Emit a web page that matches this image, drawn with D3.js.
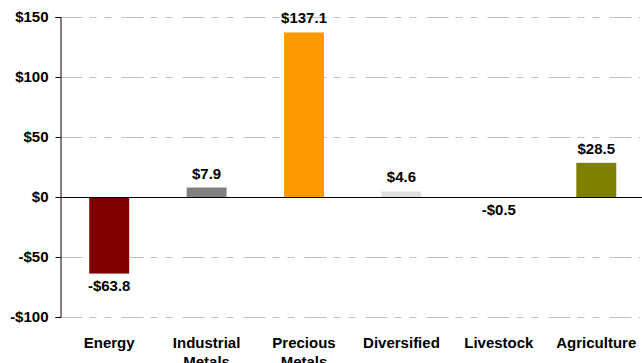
<!DOCTYPE html>
<html>
<head>
<meta charset="utf-8">
<script src="https://cdn.jsdelivr.net/npm/d3@7"></script>
<style>
  body { margin: 0; background: #fff; }
  text { font-family: "Liberation Sans", Arial, sans-serif; font-weight: bold; fill: #000; }
</style>
</head>
<body>
<svg id="canvas"></svg>
<script>
// chart data
const categories = ["Energy", "Industrial Metals", "Precious Metals", "Diversified", "Livestock", "Agriculture"];
const values = [-63.8, 7.9, 137.1, 4.6, -0.5, 28.5];
const barColors = ["#800000", "#808080", "#ff9900", "#e0e0e0", "#1a1a1a", "#808000"];
const yTicks = [-100, -50, 0, 50, 100, 150];

let width = 642;
let height = 363;
let margin = { left: 60.5, right: -3, top: 17, bottom: 46 };

let canvas = d3.select('#canvas')
    .attr('width', width)
    .attr('height', height);

let xScale = d3.scaleBand()
    .domain(categories)
    .range([margin.left, width - margin.right])
    .paddingInner(0.59)
    .paddingOuter(0.295);

let yScale = d3.scaleLinear()
    .domain([-100, 150])
    .range([height - margin.bottom, margin.top]);

// gridlines (dashed, not at zero)
canvas.append('g')
    .selectAll('line')
    .data(yTicks.filter(d => d !== 0))
    .enter()
    .append('line')
    .attr('x1', margin.left)
    .attr('x2', 640)
    .attr('y1', d => Math.round(yScale(d)) + 0.5)
    .attr('y2', d => Math.round(yScale(d)) + 0.5)
    .attr('stroke', '#c0c0c0')
    .attr('stroke-width', 1)
    .attr('stroke-dasharray', '22,7,7,8,7,10');

// bars
canvas.append('g')
    .selectAll('rect')
    .data(values)
    .enter()
    .append('rect')
    .attr('x', (d, i) => xScale(categories[i]))
    .attr('width', xScale.bandwidth())
    .attr('y', d => yScale(Math.max(0, d)))
    .attr('height', d => Math.max(1, Math.abs(yScale(d) - yScale(0))))
    .attr('fill', (d, i) => barColors[i]);

// zero line
canvas.append('line')
    .attr('x1', margin.left)
    .attr('x2', 642)
    .attr('y1', Math.round(yScale(0)) + 0.5)
    .attr('y2', Math.round(yScale(0)) + 0.5)
    .attr('stroke', '#000')
    .attr('stroke-width', 1);

// y axis
let yAxis = d3.axisLeft(yScale)
    .tickValues(yTicks)
    .tickSize(5)
    .tickPadding(7)
    .tickFormat(d => (d < 0 ? '-$' : '$') + Math.abs(d));

let yG = canvas.append('g')
    .attr('transform', `translate(${margin.left}, 0)`)
    .call(yAxis);
yG.select('.domain').attr('stroke', '#000');
yG.selectAll('.tick line').attr('stroke', '#000');
yG.selectAll('text')
    .style('font-family', '"Liberation Sans", Arial, sans-serif')
    .style('font-weight', 'bold')
    .style('font-size', '15px')
    .attr('fill', '#000');

// value labels
canvas.append('g')
    .selectAll('text')
    .data(values)
    .enter()
    .append('text')
    .attr('text-anchor', 'middle')
    .style('font-size', '15px')
    .attr('x', (d, i) => xScale(categories[i]) + xScale.bandwidth() / 2)
    .attr('y', d => d >= 0 ? yScale(d) - 9 : yScale(d) + 17)
    .text(d => (d < 0 ? '-$' : '$') + Math.abs(d).toFixed(1));

// category labels (two lines where needed)
let catG = canvas.append('g')
    .selectAll('text')
    .data(categories)
    .enter()
    .append('text')
    .attr('text-anchor', 'middle')
    .style('font-size', '15px')
    .attr('x', d => xScale(d) + xScale.bandwidth() / 2)
    .attr('y', 348);

catG.each(function (d) {
    let words = d.split(' ');
    let el = d3.select(this);
    words.forEach((w, j) => {
        el.append('tspan')
            .attr('x', xScale(d) + xScale.bandwidth() / 2)
            .attr('dy', j === 0 ? 0 : 19)
            .text(w);
    });
});
</script>
</body>
</html>
